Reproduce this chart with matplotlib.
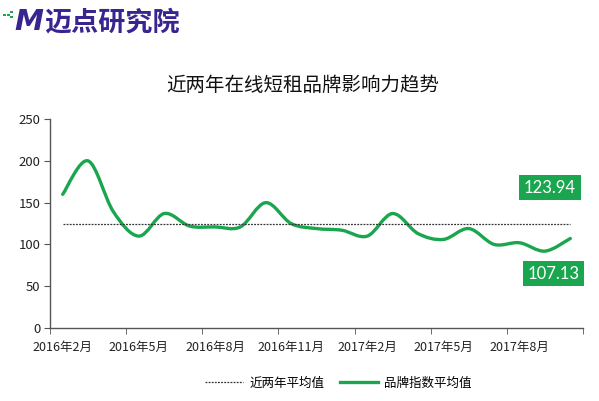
import numpy as np
import matplotlib
matplotlib.use("Agg")
from matplotlib import pyplot as plt
from matplotlib.path import Path
from matplotlib.patches import PathPatch, Rectangle
from matplotlib.lines import Line2D

plt.rcParams['font.family'] = ['Noto Sans CJK SC', 'DejaVu Sans']

months = ["2016年2月", "2016年3月", "2016年4月", "2016年5月", "2016年6月", "2016年7月",
          "2016年8月", "2016年9月", "2016年10月", "2016年11月", "2016年12月", "2017年1月",
          "2017年2月", "2017年3月", "2017年4月", "2017年5月", "2017年6月", "2017年7月",
          "2017年8月", "2017年9月", "2017年10月"]
brand_index = [160, 200, 139, 110, 137, 122, 121, 121, 150, 125, 119, 117,
               110, 137, 113, 106, 119, 100, 102, 92, 107.13]
avg_two_years = 123.94
last_value = 107.13

GREEN = "#1aa64e"
PURPLE = "#3a2590"


def smooth_path(xs, ys):
    ''' excel-like smoothed line as cubic bezier through the points '''
    pts = np.column_stack([xs, ys]).astype(float)
    n = len(pts)
    verts = [pts[0]]
    codes = [Path.MOVETO]
    for i in range(n - 1):
        p0 = pts[i - 1] if i > 0 else pts[i]
        p1 = pts[i]
        p2 = pts[i + 1]
        p3 = pts[i + 2] if i + 2 < n else pts[i + 1]
        c1 = p1 + (p2 - p0) / 6
        c2 = p2 - (p3 - p1) / 6
        verts += [c1, c2, p2]
        codes += [Path.CURVE4] * 3
    return Path(verts, codes)


fig = plt.figure(figsize=(5.99, 4.01), dpi=100)
ax = fig.add_axes([0.0835, 0.182, 0.8898, 0.521])

x = np.arange(len(months))
ax.plot([x[0], x[-1]], [avg_two_years, avg_two_years], linestyle=(0, (1.5, 1)),
        color="#333333", linewidth=0.9)
ax.add_patch(PathPatch(smooth_path(x, brand_index), facecolor="none",
                       edgecolor=GREEN, linewidth=2.4, capstyle="round"))

ax.set_xlim(-0.5, len(months) - 0.5)
ax.set_ylim(0, 250)
ax.set_yticks([0, 50, 100, 150, 200, 250])
ax.set_xticks(x[::3])
ax.set_xticklabels(months[::3])
ax.set_xticks(np.arange(-0.5, len(months), 3), minor=True)
ax.tick_params(axis="x", which="major", length=0, pad=9, labelsize=9, colors="#222222")
ax.tick_params(axis="x", which="minor", length=4, color="#555555", direction="out")
ax.tick_params(axis="y", length=4, color="#555555", labelsize=9.5, labelcolor="#222222", pad=3)
for s in ["top", "right"]:
    ax.spines[s].set_visible(False)
for s in ["left", "bottom"]:
    ax.spines[s].set_color("#555555")
    ax.spines[s].set_linewidth(1.0)

box = dict(boxstyle="square,pad=0.28", facecolor=GREEN, edgecolor="none")
ax.text(19.2, 168, f"{avg_two_years:.2f}", color="white", fontsize=12,
        ha="center", va="center", bbox=box, family=["Lato", "DejaVu Sans"])
ax.text(19.35, 65, f"{last_value:.2f}", color="white", fontsize=12,
        ha="center", va="center", bbox=box, family=["Lato", "DejaVu Sans"])

fig.text(0.506, 0.788, "近两年在线短租品牌影响力趋势", fontsize=14, ha="center",
         va="center", color="#111111")

# logo: little green pixel bits, then the purple wordmark
for px, py in [(3, 16), (7, 16), (10, 13), (10, 18)]:
    fig.patches.append(Rectangle((px / 599, 1 - py / 401), 2.5 / 599, 2.5 / 401,
                                 transform=fig.transFigure, facecolor=GREEN,
                                 edgecolor="none"))
fig.text(0.024, 0.945, "M", color=PURPLE, fontsize=21, fontweight="black",
         ha="left", va="center", family=["DejaVu Sans"], style="italic")
fig.text(0.074, 0.943, "迈点研究院", color=PURPLE, fontsize=19.5, fontweight="black",
         ha="left", va="center")

handles = [Line2D([], [], linestyle=(0, (1.5, 1)), color="#333333", linewidth=0.9),
           Line2D([], [], color=GREEN, linewidth=2.4)]
fig.legend(handles, ["近两年平均值", "品牌指数平均值"], loc="center",
           bbox_to_anchor=(0.565, 0.045), ncol=2, frameon=False, fontsize=9,
           handlelength=3.0, columnspacing=1.3, handletextpad=0.5)

fig.savefig("out.png", dpi=100, facecolor="white")
